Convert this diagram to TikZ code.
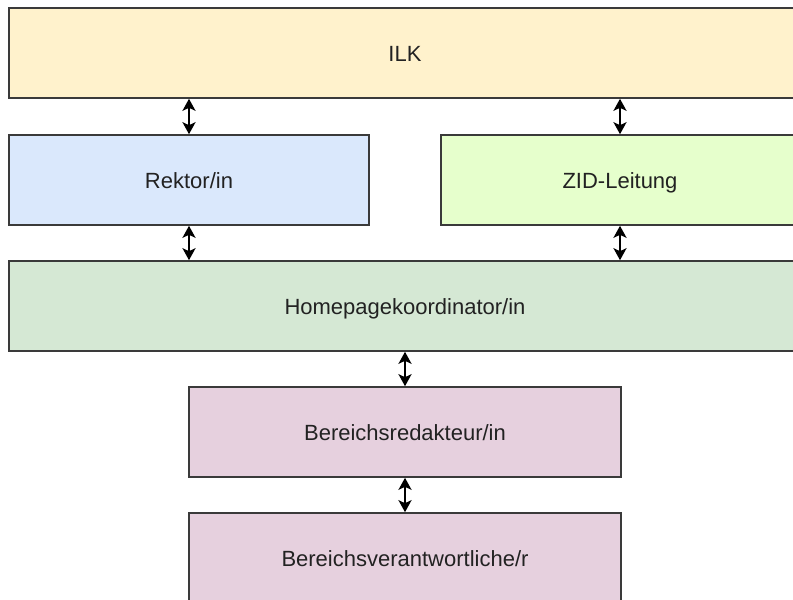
\documentclass[tikz,border=0pt]{standalone}
\usepackage{fontspec}
\setmainfont{Liberation Sans}
\definecolor{ilkfill}{HTML}{FFF2CC}
\definecolor{rektorfill}{HTML}{DAE8FC}
\definecolor{zidfill}{HTML}{E6FFCC}
\definecolor{homefill}{HTML}{D5E8D4}
\definecolor{redfill}{HTML}{E6D0DE}
\definecolor{boxline}{HTML}{3A3A3A}
\definecolor{labeltext}{HTML}{222222}
\usetikzlibrary{positioning, arrows.meta}

\begin{document}
\begin{tikzpicture}[x=1pt, y=-1pt,
    box/.style={draw=boxline, line width=1.6pt, minimum height=90pt, inner sep=0pt, text height=18pt, text depth=2pt, text=labeltext, font=\fontsize{22}{26}\selectfont},
    link/.style={{Stealth[length=12pt, width=13pt, inset=3pt]}-{Stealth[length=12pt, width=13pt, inset=3pt]}, line width=2.6pt, black}
]
    \useasboundingbox (0,0) rectangle (793,600);
    \clip (0,0) rectangle (793,600);

    \node[box, fill=ilkfill, minimum width=792pt] (ilk) at (405,53) {ILK};
    \node[box, fill=rektorfill, minimum width=360pt] (rektor) at (189,180) {Rektor/in};
    \node[box, fill=zidfill, minimum width=358pt] (zid) at (620,180) {ZID-Leitung};
    \node[box, fill=homefill, minimum width=792pt] (home) at (405,306) {Homepagekoordinator/in};
    \node[box, fill=redfill, minimum width=432pt, below=34.4pt of home] (redakteur) {Bereichsredakteur/in};
    \node[box, fill=redfill, minimum width=432pt, below=34.4pt of redakteur] (verantw) {Bereichsverantwortliche/r};

    \draw[link] (ilk.south -| rektor) -- (rektor.north);
    \draw[link] (ilk.south -| zid) -- (zid.north);
    \draw[link] (rektor.south) -- (home.north -| rektor);
    \draw[link] (zid.south) -- (home.north -| zid);
    \draw[link] (home.south) -- (redakteur.north);
    \draw[link] (redakteur.south) -- (verantw.north);
\end{tikzpicture}
\end{document}
